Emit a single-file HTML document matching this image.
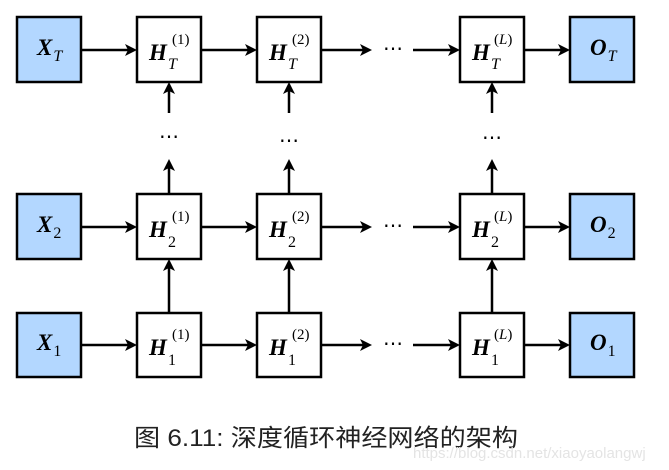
<!DOCTYPE html>
<html><head><meta charset="utf-8"><style>
html,body{margin:0;padding:0;background:#fff;}
svg{display:block;}
.m{font-family:"Liberation Serif",serif;font-style:italic;}
</style></head><body>
<svg width="669" height="470" viewBox="0 0 669 470" xmlns="http://www.w3.org/2000/svg">
<g stroke="#000" stroke-width="2.5" fill="none">
<rect x="17" y="17" width="64" height="65" fill="#b3d7ff"/>
<rect x="137" y="17" width="64" height="65" fill="#fff"/>
<rect x="257" y="17" width="64" height="65" fill="#fff"/>
<rect x="460" y="17" width="64" height="65" fill="#fff"/>
<rect x="570" y="17" width="64" height="65" fill="#b3d7ff"/>

<rect x="17" y="194" width="64" height="65" fill="#b3d7ff"/>
<rect x="137" y="194" width="64" height="65" fill="#fff"/>
<rect x="257" y="194" width="64" height="65" fill="#fff"/>
<rect x="460" y="194" width="64" height="65" fill="#fff"/>
<rect x="570" y="194" width="64" height="65" fill="#b3d7ff"/>

<rect x="17" y="313" width="64" height="64" fill="#b3d7ff"/>
<rect x="137" y="313" width="64" height="64" fill="#fff"/>
<rect x="257" y="313" width="64" height="64" fill="#fff"/>
<rect x="460" y="313" width="64" height="64" fill="#fff"/>
<rect x="570" y="313" width="64" height="64" fill="#b3d7ff"/>
</g>
<g stroke="#000" stroke-width="2.5" fill="none">
<path d="M81 50H134M201 50H254M321 50H369M413 50H457M524 50H567"/>
<path d="M81 227H134M201 227H254M321 227H369M413 227H457M524 227H567"/>
<path d="M81 345H134M201 345H254M321 345H369M413 345H457M524 345H567"/>
<path d="M169 313V262M289 313V262M492 313V262"/>
<path d="M169 194V162M289 194V162M492 194V162"/>
<path d="M169 113V85M289 113V85M492 113V85"/>
</g>
<g fill="#000">
<path d="M137 50l-12-6 3 6-3 6z M257 50l-12-6 3 6-3 6z M372 50l-12-6 3 6-3 6z M460 50l-12-6 3 6-3 6z M570 50l-12-6 3 6-3 6z"/>
<path d="M137 227l-12-6 3 6-3 6z M257 227l-12-6 3 6-3 6z M372 227l-12-6 3 6-3 6z M460 227l-12-6 3 6-3 6z M570 227l-12-6 3 6-3 6z"/>
<path d="M137 345l-12-6 3 6-3 6z M257 345l-12-6 3 6-3 6z M372 345l-12-6 3 6-3 6z M460 345l-12-6 3 6-3 6z M570 345l-12-6 3 6-3 6z"/>
<path d="M169 259l-6 12 6-3 6 3z M289 259l-6 12 6-3 6 3z M492 259l-6 12 6-3 6 3z"/>
<path d="M169 159l-6 12 6-3 6 3z M289 159l-6 12 6-3 6 3z M492 159l-6 12 6-3 6 3z"/>
<path d="M169 82l-6 12 6-3 6 3z M289 82l-6 12 6-3 6 3z M492 82l-6 12 6-3 6 3z"/>
</g>
<g font-family="Liberation Serif, serif" font-size="20" fill="#000">
<text x="393" y="55" text-anchor="middle">⋯</text>
<text x="393" y="232" text-anchor="middle">⋯</text>
<text x="393" y="350" text-anchor="middle">⋯</text>
<text x="169" y="143" text-anchor="middle">⋯</text>
<text x="289" y="147" text-anchor="middle">⋯</text>
<text x="492" y="144" text-anchor="middle">⋯</text>
</g>
<g class="m" fill="#000">
<text x="37" y="55" font-size="23" font-weight="bold">X<tspan font-size="16" font-weight="normal" dx="1" dy="6">T</tspan></text>
<text x="37" y="232" font-size="23" font-weight="bold">X<tspan font-size="16" font-weight="normal" font-style="normal" dx="1" dy="6">2</tspan></text>
<text x="37" y="350" font-size="23" font-weight="bold">X<tspan font-size="16" font-weight="normal" font-style="normal" dx="1" dy="6">1</tspan></text>
<text x="590" y="55" font-size="23" font-weight="bold">O<tspan font-size="16" font-weight="normal" dx="1" dy="6">T</tspan></text>
<text x="590" y="232" font-size="23" font-weight="bold">O<tspan font-size="16" font-weight="normal" font-style="normal" dx="1" dy="6">2</tspan></text>
<text x="590" y="350" font-size="23" font-weight="bold">O<tspan font-size="16" font-weight="normal" font-style="normal" dx="1" dy="6">1</tspan></text>
</g>
<g font-family="Liberation Serif, serif" fill="#000">
<g font-size="23" font-weight="bold" font-style="italic">
<text x="149" y="60">H</text><text x="269" y="60">H</text><text x="472" y="60">H</text>
<text x="149" y="237">H</text><text x="269" y="237">H</text><text x="472" y="237">H</text>
<text x="149" y="355">H</text><text x="269" y="355">H</text><text x="472" y="355">H</text>
</g>
<g font-size="16" font-style="italic">
<text x="168" y="69">T</text><text x="288" y="69">T</text><text x="491" y="69">T</text>
</g>
<g font-size="16">
<text x="168" y="247">2</text><text x="288" y="247">2</text><text x="491" y="247">2</text>
<text x="168" y="365">1</text><text x="288" y="365">1</text><text x="491" y="365">1</text>
</g>
<g font-size="15">
<text x="172" y="44">(1)</text><text x="292" y="44">(2)</text><text x="494" y="44">(<tspan font-style="italic">L</tspan>)</text>
<text x="172" y="221">(1)</text><text x="292" y="221">(2)</text><text x="494" y="221">(<tspan font-style="italic">L</tspan>)</text>
<text x="172" y="339">(1)</text><text x="292" y="339">(2)</text><text x="494" y="339">(<tspan font-style="italic">L</tspan>)</text>
</g>
</g>
<text x="134" y="446" font-family="Liberation Sans, Noto Sans CJK SC, sans-serif" font-size="24" fill="#222" textLength="384" lengthAdjust="spacingAndGlyphs">图 6.11: 深度循环神经网络的架构</text>
<text x="413" y="458" font-family="Liberation Sans, sans-serif" font-size="15" fill="#e4e4e4">https://blog.csdn.net/xiaoyaolangwj</text>
</svg>
</body></html>
